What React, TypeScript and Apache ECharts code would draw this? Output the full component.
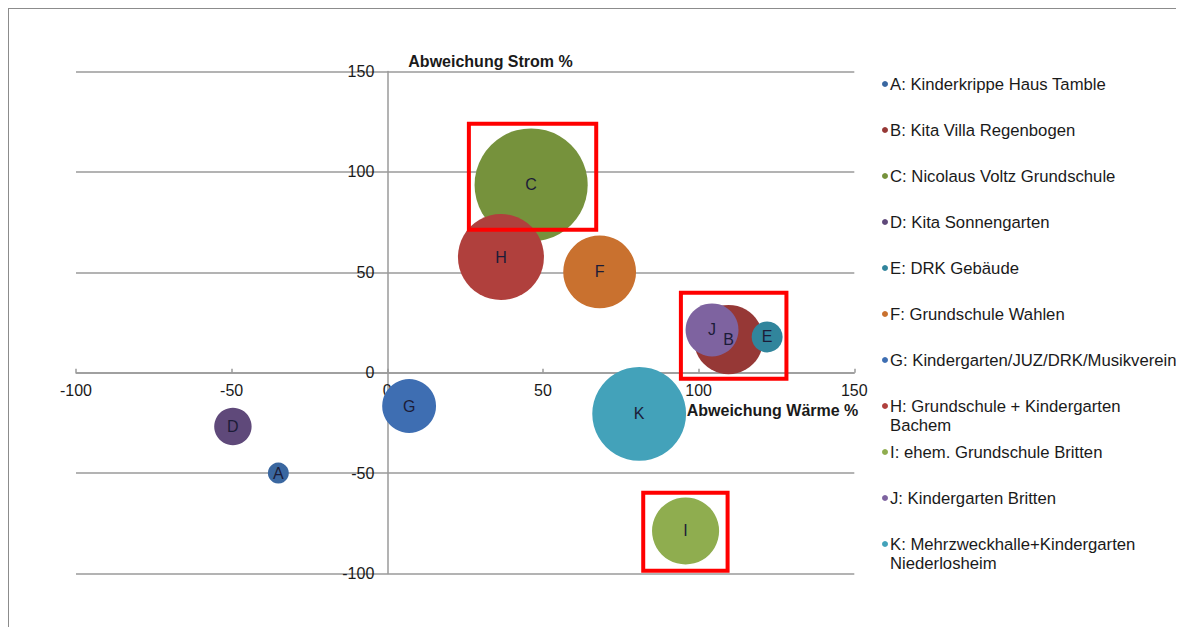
import React, { useEffect, useRef } from "react";
import * as echarts from "echarts";

const letters = ["A", "B", "C", "D", "E", "F", "G", "H", "I", "J", "K"];
const names = [
  "A: Kinderkrippe Haus Tamble",
  "B: Kita Villa Regenbogen",
  "C: Nicolaus Voltz Grundschule",
  "D: Kita Sonnengarten",
  "E: DRK Gebäude",
  "F: Grundschule Wahlen",
  "G: Kindergarten/JUZ/DRK/Musikverein",
  "H: Grundschule + Kindergarten\nBachem",
  "I: ehem. Grundschule Britten",
  "J: Kindergarten Britten",
  "K: Mehrzweckhalle+Kindergarten\nNiederlosheim",
];
// Abweichung Wärme % (x)
const waerme = [-35, 109.6, 46.2, -49.6, 122, 68.2, 7, 36.5, 95.8, 104.3, 80.9];
// Abweichung Strom % (y)
const strom = [-50, 16.5, 93.5, -26.8, 17.8, 50.2, -16.6, 57.6, -78.8, 21.3, -20.5];
// bubble size values
const bubbleSize = [4.4, 48, 128, 14, 9.6, 53, 29, 74, 45, 28, 88];
// highlighted groups: [x1, y1, x2, y2] in data units
const highlightBoxes = [
  [26.2, 124, 67.1, 71.2],
  [94.3, 39.8, 128.2, -3],
  [82.2, -59.8, 109.3, -98.6],
];
const xTicks = { min: -100, max: 150, interval: 50 };
const yTicks = { min: -100, max: 150, interval: 50 };

const colors = [
  "#3A67A0",
  "#963836",
  "#76923C",
  "#5F497A",
  "#31859C",
  "#C9712F",
  "#3E6EB2",
  "#B0403D",
  "#8FAD4F",
  "#7E63A0",
  "#43A2BA",
];

const FONT = "'Liberation Sans', Arial, sans-serif";

// grid geometry (layout)
const GRID = { left: 68, top: 63.5, width: 778.3, height: 502 };

export default function App() {
  const ref = useRef<HTMLDivElement>(null);
  useEffect(() => {
    if (!ref.current) return;
    const chart = echarts.init(ref.current, null, { renderer: "svg" });
    const series: any[] = letters.map((l, i) => ({
      type: "scatter",
      name: names[i],
      data: [[waerme[i], strom[i], bubbleSize[i]]],
      symbolSize: (v: number[]) => Math.sqrt(v[2]) * 10,
      itemStyle: { color: colors[i], opacity: 1 },
      label: {
        show: true,
        position: "inside",
        formatter: l,
        color: "#1c1c38",
        fontFamily: FONT,
        fontSize: 16,
      },
      emphasis: { disabled: true },
    }));
    series.push({
      type: "scatter",
      name: "highlight",
      data: [],
      z: 10,
      markArea: {
        silent: true,
        z: 10,
        itemStyle: {
          color: "rgba(0,0,0,0)",
          borderColor: "#FF0000",
          borderWidth: 4,
        },
        data: highlightBoxes.map((b) => [
          { coord: [b[0], b[1]] },
          { coord: [b[2], b[3]] },
        ]),
      },
    });

    const legendGraphics: any[] = [];
    names.forEach((n, i) => {
      const cy = 76 + i * 46;
      legendGraphics.push({
        type: "circle",
        shape: { cx: 877, cy, r: 3 },
        style: { fill: colors[i] },
      });
      legendGraphics.push({
        type: "text",
        x: 882,
        y: cy - 9.5,
        style: {
          text: n,
          font: `16.7px ${FONT}`,
          fill: "#1a1a1a",
          lineHeight: 19,
          verticalAlign: "top",
        },
      });
    });

    // offsets so that the axes cross at zero (Excel style)
    const xZeroOffset = -GRID.width * ((0 - xTicks.min) / (xTicks.max - xTicks.min));
    const yZeroOffset = -GRID.height * ((0 - yTicks.min) / (yTicks.max - yTicks.min));

    const axisLineStyle = { color: "#9a9a9a", width: 1.5 };
    chart.setOption({
      animation: false,
      backgroundColor: "#ffffff",
      grid: GRID,
      xAxis: {
        type: "value",
        position: "bottom",
        offset: yZeroOffset,
        min: xTicks.min,
        max: xTicks.max,
        interval: xTicks.interval,
        axisLine: { show: true, onZero: false, lineStyle: axisLineStyle },
        axisTick: { show: true, inside: true, length: 4, lineStyle: axisLineStyle },
        splitLine: { show: false },
        axisLabel: {
          color: "#1a1a1a",
          fontFamily: FONT,
          fontSize: 16,
          margin: 10,
        },
        name: "Abweichung Wärme %",
        nameLocation: "end",
        nameGap: 4,
        nameTextStyle: {
          fontFamily: FONT,
          fontSize: 16,
          fontWeight: "bold",
          color: "#1a1a1a",
          align: "right",
          verticalAlign: "top",
          padding: [30, 0, 0, 0],
        },
      },
      yAxis: {
        type: "value",
        position: "left",
        offset: xZeroOffset,
        min: yTicks.min,
        max: yTicks.max,
        interval: yTicks.interval,
        axisLine: { show: true, onZero: false, lineStyle: axisLineStyle },
        axisTick: { show: false },
        splitLine: { show: true, lineStyle: axisLineStyle },
        axisLabel: {
          color: "#1a1a1a",
          fontFamily: FONT,
          fontSize: 16,
          margin: 13,
        },
        name: "Abweichung Strom %",
        nameLocation: "end",
        nameGap: 2,
        nameTextStyle: {
          fontFamily: FONT,
          fontSize: 16,
          fontWeight: "bold",
          color: "#1a1a1a",
          align: "left",
          verticalAlign: "bottom",
          padding: [0, 0, 0, 21],
        },
      },
      series,
      graphic: [
        {
          type: "rect",
          shape: { x: 0, y: 0, width: 1173, height: 700 },
          style: { fill: "none", stroke: "#8c8c8c", lineWidth: 2 },
          silent: true,
        },
        ...legendGraphics,
      ],
    });
    return () => chart.dispose();
  }, []);
  return <div ref={ref} style={{ width: 1172, height: 619 }} />;
}
